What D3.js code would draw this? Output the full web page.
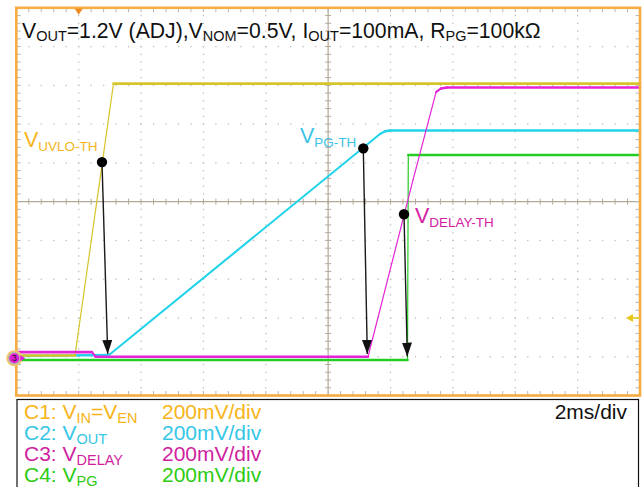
<!DOCTYPE html>
<html>
<head>
<meta charset="utf-8">
<script src="https://cdn.jsdelivr.net/npm/d3@7"></script>
<style>
  html, body { margin: 0; padding: 0; background: #fff; }
  svg { display: block; }
  text { font-family: "Liberation Sans", Arial, Helvetica, sans-serif; }
</style>
</head>
<body>
<svg id="scope" width="642" height="487"></svg>
<script>
// ---- Acquisition data (time in ms, voltage in V, 200 mV/div, 2 ms/div) ----
const c1Time = [0, 1.882, 3.117, 20];
const c1Volt = [0.006, 0.006, 1.409, 1.409];

const c2Time = [0, 2.973, 11.663, 11.823, 11.983, 20];
const c2Volt = [0.004, 0.009, 1.149, 1.163, 1.167, 1.167];

const c3Time = [0, 2.427, 2.540, 11.278, 12.72, 13.46, 13.619, 13.81, 20];
const c3Volt = [0.024, 0.024, 0.0, 0.0, 0.911, 1.365, 1.384, 1.389, 1.389];

const c4Time = [0, 12.545, 12.570, 20];
const c4Volt = [-0.017, -0.017, 1.041, 1.041];

// Threshold annotations: dot on the trace and where the arrow lands
const markNames = ["UVLO-TH", "PG-TH", "DELAY-TH"];
const markDotTime = [2.748, 11.127, 12.432];
const markDotVolt = [1.004, 1.075, 0.735];
const markTipTime = [2.931, 11.255, 12.538];
const markTipVolt = [0.014, 0.014, 0.001];

const timeDomain = [0, 20];       // 10 div x 2 ms
const voltDomain = [-0.2, 1.8];   // 10 div x 200 mV
const triggerTime = 2.0;
const triggerLevel = 0.2;
const ch3Ground = -0.008;

const titleParts = [["V", 0], ["OUT", 1], ["=1.2V (ADJ),V", 0], ["NOM", 1], ["=0.5V, I", 0], ["OUT", 1], ["=100mA, R", 0], ["PG", 1], ["=100kΩ", 0]];
const legendLabels = [
  [["C1: V", 0], ["IN", 1], ["=V", 0], ["EN", 1]],
  [["C2: V", 0], ["OUT", 1]],
  [["C3: V", 0], ["DELAY", 1]],
  [["C4: V", 0], ["PG", 1]]
];
const legendScales = ["200mV/div", "200mV/div", "200mV/div", "200mV/div"];
const timebaseLabel = "2ms/div";

// ---- Styling ----
const traceColors = ["#d6c52a", "#22d3ea", "#e424d8", "#25cc21"];
const textColors = ["#f6b417", "#35c6e6", "#cf1f9f", "#2ccb12"];
const frameColor = "#f6ab43";

const plot = { left: 16.3, right: 640, top: 7.8, bottom: 395.5 };
const svg = d3.select("#scope");

const x = d3.scaleLinear().domain(timeDomain).range([plot.left, plot.right]);
const y = d3.scaleLinear().domain(voltDomain).range([plot.bottom, plot.top]);

// ---- Graticule ----
const majorX = d3.range(0, 10.01, 1).map(i => timeDomain[0] + i * 2);
const majorY = d3.range(0, 10.01, 1).map(i => voltDomain[0] + i * 0.2);
const minorX = d3.range(0, 50.01, 1).map(i => timeDomain[0] + i * 0.4);
const minorY = d3.range(0, 50.01, 1).map(i => voltDomain[0] + i * 0.04);
const centerT = (timeDomain[0] + timeDomain[1]) / 2;
const centerV = (voltDomain[0] + voltDomain[1]) / 2;

const grid = svg.append("g");
// dotted division lines
majorX.slice(1, -1).filter(t => t !== centerT).forEach(t => {
  grid.selectAll(null).data(minorY.slice(1, -1)).enter().append("rect")
    .attr("x", x(t) - 0.6).attr("y", v => y(v) - 0.6)
    .attr("width", 1.3).attr("height", 1.3).attr("fill", "#bdbdbd");
});
majorY.slice(1, -1).filter(v => Math.abs(v - centerV) > 1e-6).forEach(v => {
  grid.selectAll(null).data(minorX.slice(1, -1)).enter().append("rect")
    .attr("x", t => x(t) - 0.6).attr("y", y(v) - 0.6)
    .attr("width", 1.3).attr("height", 1.3).attr("fill", "#bdbdbd");
});

// centre cross with minor ticks
const axisColor = "#b3aa98";
grid.append("line").attr("x1", x(timeDomain[0])).attr("x2", x(timeDomain[1]))
  .attr("y1", y(centerV)).attr("y2", y(centerV)).attr("stroke", axisColor).attr("stroke-width", 1.2);
grid.append("line").attr("x1", x(centerT)).attr("x2", x(centerT))
  .attr("y1", y(voltDomain[0])).attr("y2", y(voltDomain[1])).attr("stroke", axisColor).attr("stroke-width", 1.2);
grid.selectAll(null).data(minorX).enter().append("line")
  .attr("x1", d => x(d)).attr("x2", d => x(d))
  .attr("y1", y(centerV) - 3).attr("y2", y(centerV) + 3)
  .attr("stroke", axisColor).attr("stroke-width", 1);
grid.selectAll(null).data(minorY).enter().append("line")
  .attr("y1", d => y(d)).attr("y2", d => y(d))
  .attr("x1", x(centerT) - 3).attr("x2", x(centerT) + 3)
  .attr("stroke", axisColor).attr("stroke-width", 1);

// edge ticks
const edgeTick = "#b8b8b8";
[[plot.top, 1], [plot.bottom, -1]].forEach(([yy, dir]) => {
  grid.selectAll(null).data(minorX).enter().append("line")
    .attr("x1", d => x(d)).attr("x2", d => x(d))
    .attr("y1", yy).attr("y2", yy + dir * 4.5)
    .attr("stroke", edgeTick).attr("stroke-width", 1);
});
[[plot.left, 1], [plot.right, -1]].forEach(([xx, dir]) => {
  grid.selectAll(null).data(minorY).enter().append("line")
    .attr("y1", d => y(d)).attr("y2", d => y(d))
    .attr("x1", xx).attr("x2", xx + dir * 4.5)
    .attr("stroke", edgeTick).attr("stroke-width", 1);
});

// ---- Traces: fast edges are drawn thinner, as the scope paints them ----
function drawTrace(times, volts, color) {
  const g = svg.append("g");
  const pts = times.map((t, i) => [t, volts[i]]);
  for (let i = 0; i < pts.length - 1; i++) {
    const x1 = x(pts[i][0]), y1 = y(pts[i][1]);
    const x2 = x(pts[i + 1][0]), y2 = y(pts[i + 1][1]);
    const slope = Math.abs((y2 - y1) / Math.max(x2 - x1, 0.01));
    const w = slope > 3 ? 1.2 : (slope > 0.4 ? 2.1 : 2.6);
    g.append("line").attr("x1", x1).attr("y1", y1).attr("x2", x2).attr("y2", y2)
      .attr("stroke", color).attr("stroke-width", w).attr("stroke-linecap", "round");
  }
}
drawTrace(c4Time, c4Volt, traceColors[3]);
drawTrace(c2Time, c2Volt, traceColors[1]);
drawTrace(c1Time, c1Volt, traceColors[0]);
drawTrace(c3Time, c3Volt, traceColors[2]);

// ---- Frame ----
svg.append("rect").attr("x", plot.left).attr("y", plot.top)
  .attr("width", plot.right - plot.left).attr("height", plot.bottom - plot.top)
  .attr("fill", "none").attr("stroke", frameColor).attr("stroke-width", 2.6);

// trigger position (top) and trigger level (right)
const tx = x(triggerTime);
svg.append("path").attr("d", `M${tx - 4},${plot.top + 1} L${tx + 4},${plot.top + 1} L${tx},${plot.top + 7} Z`)
  .attr("fill", "#f08a1e");
const ty = y(triggerLevel);
svg.append("path").attr("d", `M${plot.right - 14},${ty} L${plot.right - 7},${ty - 4} L${plot.right - 7},${ty + 4} Z`)
  .attr("fill", "#e6c81c");
svg.append("line").attr("x1", plot.right - 8).attr("x2", plot.right).attr("y1", ty).attr("y2", ty)
  .attr("stroke", "#e6c81c").attr("stroke-width", 1.6);

// channel 3 ground marker
const gy = y(ch3Ground);
svg.append("circle").attr("cx", plot.left - 2).attr("cy", gy).attr("r", 8).attr("fill", "#f6c766");
svg.append("circle").attr("cx", plot.left - 2).attr("cy", gy).attr("r", 6.5).attr("fill", "#bdb6aa");
svg.append("circle").attr("cx", plot.left - 2).attr("cy", gy).attr("r", 5).attr("fill", "#e21fd6");
svg.append("text").attr("x", plot.left - 2).attr("y", gy + 3).attr("text-anchor", "middle")
  .attr("font-size", 8.5).attr("fill", "#111").text("3");
svg.append("path").attr("d", `M${plot.left + 4},${gy - 3} L${plot.left + 9},${gy} L${plot.left + 4},${gy + 3} Z`)
  .attr("fill", "#e21fd6");

// ---- Threshold arrows ----
svg.append("defs").append("marker").attr("id", "head")
  .attr("viewBox", "0 0 14 10").attr("refX", 14).attr("refY", 5)
  .attr("markerWidth", 14).attr("markerHeight", 10).attr("markerUnits", "userSpaceOnUse")
  .attr("orient", "auto")
  .append("path").attr("d", "M0,0 L14,5 L0,10 Z").attr("fill", "#111");

markNames.forEach((name, i) => {
  svg.append("line")
    .attr("x1", x(markDotTime[i])).attr("y1", y(markDotVolt[i]))
    .attr("x2", x(markTipTime[i])).attr("y2", y(markTipVolt[i]))
    .attr("stroke", "#1a1a1a").attr("stroke-width", 1.4).attr("marker-end", "url(#head)");
  svg.append("circle").attr("cx", x(markDotTime[i])).attr("cy", y(markDotVolt[i]))
    .attr("r", 5.2).attr("fill", "#000");
});

// ---- Text helpers ----
function richText(parent, parts, xPos, yPos, size, subSize, color, anchor) {
  const t = parent.append("text").attr("x", xPos).attr("y", yPos)
    .attr("font-size", size).attr("fill", color);
  if (anchor) t.attr("text-anchor", anchor);
  let sub = false;
  parts.forEach(([s, isSub]) => {
    const sp = t.append("tspan").text(s).attr("font-size", isSub ? subSize : size);
    if (isSub && !sub) sp.attr("dy", 3.5);
    if (!isSub && sub) sp.attr("dy", -3.5);
    sub = !!isSub;
  });
  return t;
}

// title
richText(svg, titleParts, 22, 37.5, 21.2, 14.5, "#111");

// threshold labels
const labelColors = ["#f5b41c", "#3cc3e6", "#d3209f"];
const labelPos = [[24, 147], [300, 143], [415, 223]];
markNames.forEach((name, i) => {
  richText(svg, [["V", 0], [name, 1]], labelPos[i][0], labelPos[i][1], 21.5, 13.5, labelColors[i]);
});

// ---- Legend box ----
svg.append("rect").attr("x", 17).attr("y", 399.5).attr("width", 621.5).attr("height", 100)
  .attr("fill", "#fff").attr("stroke", "#111").attr("stroke-width", 1.2);
legendLabels.forEach((parts, i) => {
  const by = 419 + i * 21;
  richText(svg, parts, 24, by, 21, 14.5, textColors[i]);
  svg.append("text").attr("x", 162).attr("y", by).attr("font-size", 21)
    .attr("fill", textColors[i]).text(legendScales[i]);
});
svg.append("text").attr("x", 627).attr("y", 419).attr("font-size", 21)
  .attr("text-anchor", "end").attr("fill", "#111").text(timebaseLabel);
</script>
</body>
</html>
